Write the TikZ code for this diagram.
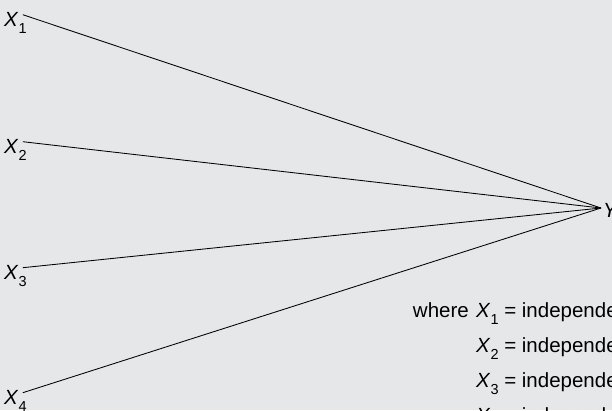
\documentclass[tikz,border=0pt]{standalone}
\usepackage{fontspec}
\setmainfont{Liberation Sans}
\usepackage{xcolor}
\usetikzlibrary{positioning, calc}
\definecolor{panelgray}{HTML}{E6E7E9}
\newcommand{\xvar}[1]{\textit{X}\raisebox{-0.36em}{\fontsize{14.5}{15}\selectfont #1}}

\begin{document}
\begin{tikzpicture}[
      x=1pt, y=-1pt,
      lab/.style={inner sep=0pt, font=\fontsize{20.5}{24}\selectfont},
      link/.style={line width=0.85pt, black}
    ]
    \useasboundingbox (0,0) rectangle (612,410);
    \clip (0,0) rectangle (612,410);
    \fill[panelgray] (0,0) rectangle (612,410);

    % inputs on the left
    \node[lab, anchor=base west] (x1) at (4,26) {\xvar{1}};
    \node[lab, anchor=base west] (x2) at (4,153) {\xvar{2}};
    \node[lab, anchor=base west] (x3) at (4,279) {\xvar{3}};
    \node[lab, anchor=base west] (x4) at (4,404) {\xvar{4}};

    % output on the right
    \coordinate (hub) at (601,208);
    \node[lab, anchor=base west] (y) at (603,217) {\textit{Y}};

    \draw[link] ([xshift=-4pt, yshift=-3pt]x1.north east) -- (hub);
    \draw[link] ([xshift=-4pt, yshift=-3pt]x2.north east) -- (hub);
    \draw[link] ([xshift=-4pt, yshift=-3pt]x3.north east) -- (hub);
    \draw[link] ([xshift=-4pt, yshift=-3pt]x4.north east) -- (hub);

    % legend
    \node[lab, anchor=base west] (def1) at (476,317) {\xvar{1} = independe};
    \node[lab, anchor=base east] (where) at ([xshift=-7pt]def1.base west) {where};
    \node[lab, anchor=base west] (def2) at (476,352) {\xvar{2} = independe};
    \node[lab, anchor=base west] (def3) at (476,387) {\xvar{3} = independe};
    \node[lab, anchor=base west] (def4) at (476,422) {\xvar{4} = independe};
  \end{tikzpicture}
\end{document}
